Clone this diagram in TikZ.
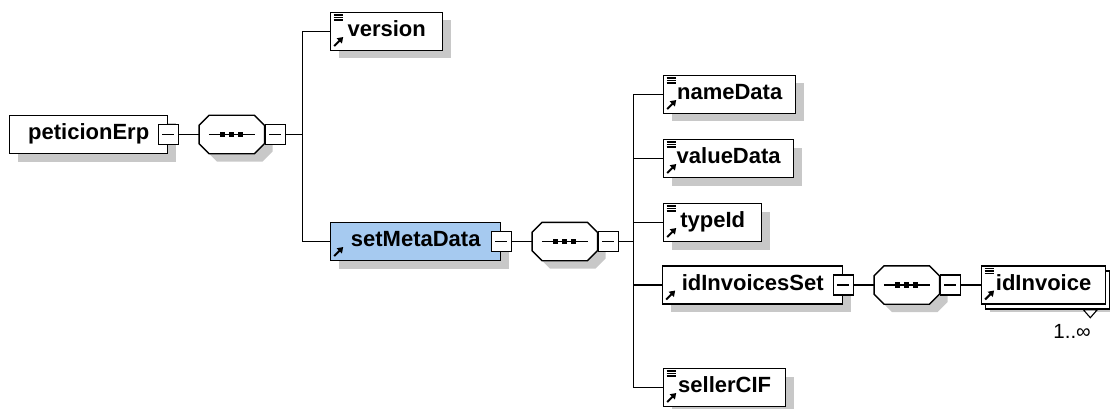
\documentclass[tikz,border=0pt]{standalone}
\usepackage{fontspec}
\setmainfont{Liberation Sans}
\usepackage{tikz}
\usetikzlibrary{positioning}
\usetikzlibrary{arrows.meta}
\usetikzlibrary{shadows}
\definecolor{selblue}{RGB}{166,202,240}
\definecolor{shadowgray}{RGB}{200,200,200}
\newcommand\refmark{\draw[line width=2pt, -{Triangle[length=5.5pt,width=7pt]}] ([shift={(3.5,-4.5)}]path picture bounding box.south west) -- ++(9,-9);}
\newcommand\textmark{\foreach \k in {2.5,5,7.5} \draw[line width=1.1pt] ([shift={(3,\k)}]path picture bounding box.north west) -- ++(9,0);}
% octagon of a sequence, drawn round a plain node
\newcommand\seqbody[1]{%
  \draw[line width=1.4pt, fill=white,
    preaction={fill=shadowgray, transform canvas={shift={(8pt,-8pt)}}}]
    ([xshift=10pt]#1.north west) -- ([xshift=-10pt]#1.north east)
    -- ([yshift=-10pt]#1.north east) -- ([yshift=10pt]#1.south east)
    -- ([xshift=-10pt]#1.south east) -- ([xshift=10pt]#1.south west)
    -- ([yshift=10pt]#1.south west) -- ([yshift=-10pt]#1.north west) -- cycle;
  \draw[line width=1.1pt] ([xshift=-23pt]#1.center) -- ([xshift=23pt]#1.center);
  \foreach \d in {-9,0,9} \fill[black] ([xshift=\d pt]#1.center) +(-2.6,-2.6) rectangle +(2.6,2.6);
}
\tikzset{%
  conn/.style={draw=black, line width=1.1pt},
  dshadow/.style={drop shadow={shadow xshift=8pt, shadow yshift=-8pt, fill=shadowgray, opacity=1}},
  elem/.style={draw=black, line width=1.4pt, fill=white, dshadow, minimum height=38pt, inner sep=0pt,
    text height=15.4pt, text depth=4.5pt, font=\fontsize{22}{24}\selectfont\bfseries},
  refelem/.style={elem, path picture={\refmark}},
  leaf/.style={elem, path picture={\refmark \textmark}},
  collapse/.style={draw=black, line width=1.4pt, fill=white, minimum size=20pt, inner sep=0pt,
    path picture={\draw[line width=1.1pt] ([xshift=4pt]path picture bounding box.west) -- ([xshift=-4pt]path picture bounding box.east);}},
  seq/.style={rectangle, minimum width=65pt, minimum height=38pt, inner sep=0pt}
}
\begin{document}
\begin{tikzpicture}[x=1pt, y=-1pt]
  \useasboundingbox (0,0) rectangle (1110,409);

  % root and first sequence
  \node[elem, anchor=west, minimum width=158pt] (root) at (9,134.5) {peticionErp\hspace{8pt}};
  \node[collapse] (rootm) at (root.east) {};
  \node[seq, right=20pt of rootm] (seqa) {};
  \seqbody{seqa}
  \node[collapse, right=0pt of seqa] (seqam) {};
  \coordinate[right=17pt of seqam] (busa);

  \node[leaf, anchor=west, minimum width=112pt] (version) at (330,31.5) {version};
  \node[refelem, anchor=west, minimum width=170pt, fill=selblue] (meta) at (330,241.5) {setMetaData\hspace{8pt}};

  \draw[conn] (rootm) -- (seqa);
  \draw[conn] (seqam) -- (busa);
  \draw[conn] (busa) |- (version);
  \draw[conn] (busa) |- (meta);

  % setMetaData content
  \node[collapse] (metam) at (meta.east) {};
  \node[seq, right=20pt of metam] (seqb) {};
  \seqbody{seqb}
  \node[collapse, right=0pt of seqb] (seqbm) {};
  \coordinate[right=15pt of seqbm] (busb);

  \node[leaf, anchor=west, minimum width=132pt] (name) at (663,94.5) {nameData};
  \node[leaf, anchor=west, minimum width=130pt] (value) at (663,158.5) {valueData};
  \node[leaf, anchor=west, minimum width=98pt] (type) at (663,222.5) {typeId};
  \node[refelem, anchor=west, minimum width=180pt] (invset) at (662,285) {idInvoicesSet\hspace{8pt}};
  \node[leaf, anchor=west, minimum width=122pt] (seller) at (663,387.5) {sellerCIF};

  \draw[conn] (metam) -- (seqb);
  \draw[conn] (seqbm) -- (busb);
  \draw[conn] (busb) |- (name);
  \draw[conn] (busb) |- (value);
  \draw[conn] (busb) |- (type);
  \draw[conn] (busb) |- (invset);
  \draw[conn] (busb) |- (seller);

  % idInvoicesSet content
  \node[collapse] (invsetm) at (invset.east) {};
  \node[seq, right=20pt of invsetm] (seqc) {};
  \seqbody{seqc}
  \node[collapse, right=0pt of seqc] (seqcm) {};
  \node[leaf, right=20pt of seqcm, minimum width=124pt,
    copy shadow={shadow xshift=4pt, shadow yshift=-5pt}] (inv) {idInvoice};

  \draw[conn] (invsetm) -- (seqc);
  \draw[conn] (seqcm) -- (inv);

  \coordinate (tri) at ([shift={(-16,5)}]inv.south east);
  \draw[line width=1.1pt, fill=white] (tri) +(-7,0) -- +(7,0) -- +(0,8) -- cycle;
  \node[anchor=base east, font=\fontsize{20.5}{24}\selectfont, inner sep=0pt] (card) at (1091,338) {1..∞};
\end{tikzpicture}
\end{document}
